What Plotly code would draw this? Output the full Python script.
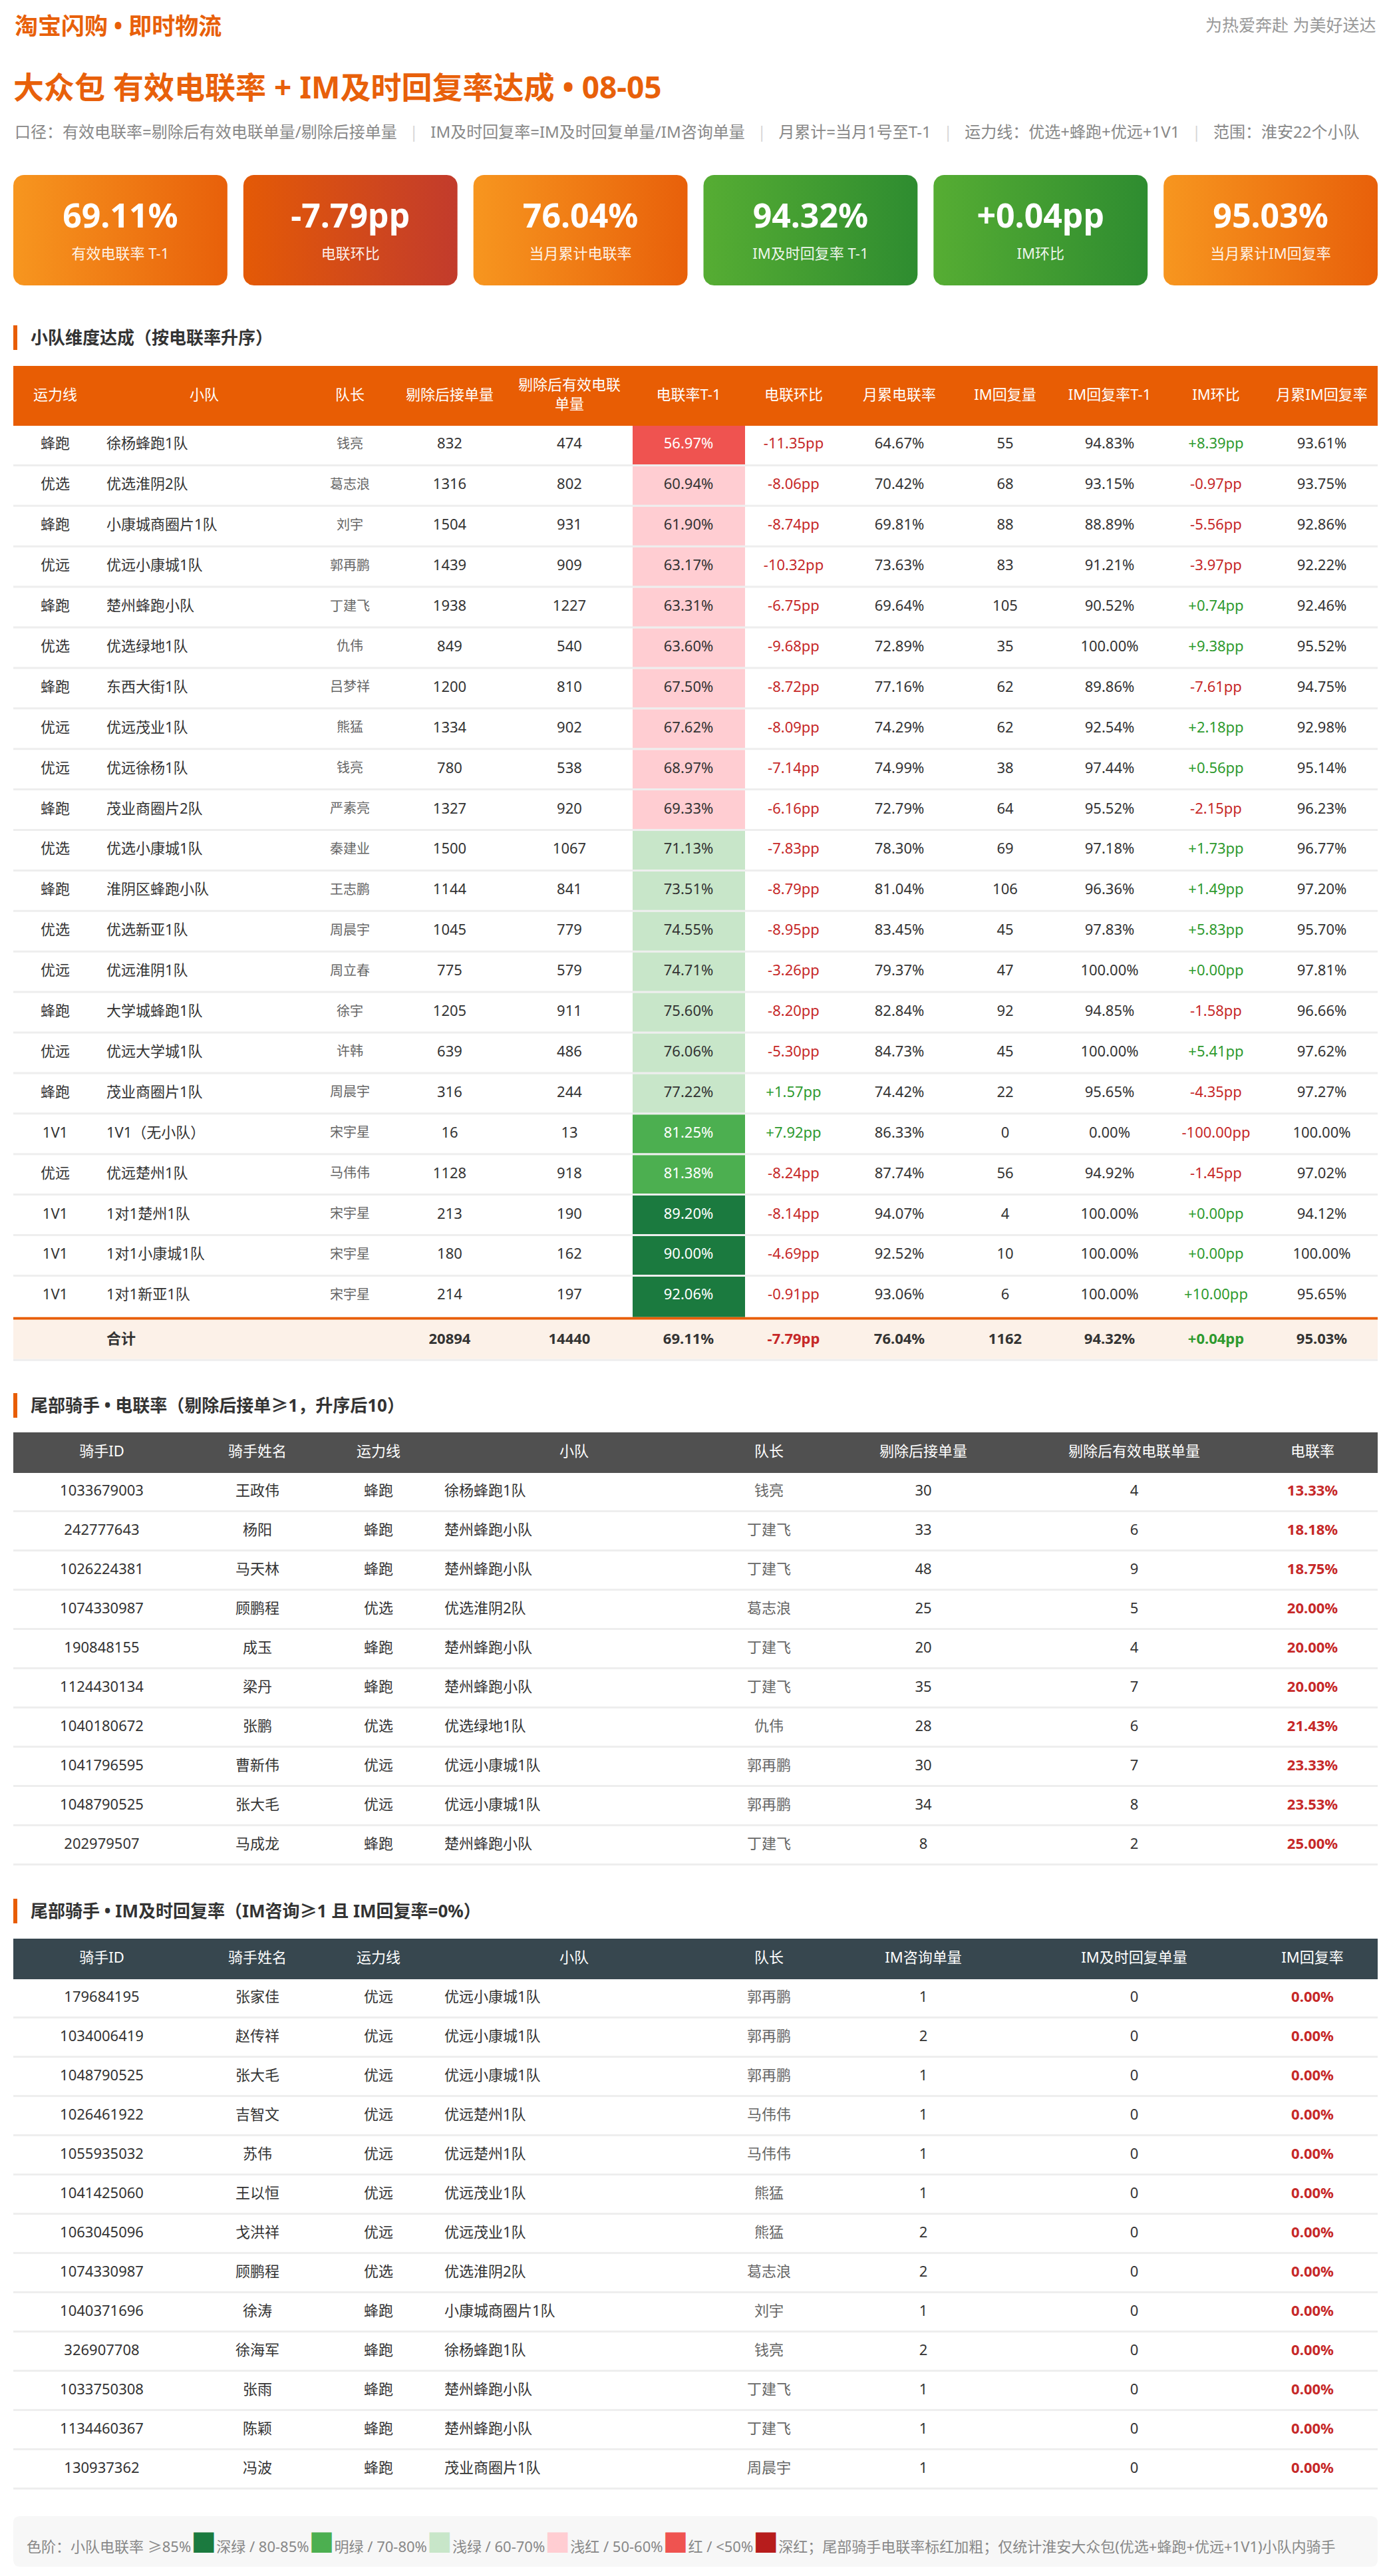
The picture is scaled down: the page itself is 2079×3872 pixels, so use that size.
import plotly.graph_objects as go

W, H = 2079, 3872
FONT = "Noto Sans, Noto Sans CJK SC, sans-serif"

# ---------------- data ----------------
kpi_values = ["69.11%", "-7.79pp", "76.04%", "94.32%", "+0.04pp", "95.03%"]
kpi_labels = ["有效电联率 T-1", "电联环比", "当月累计电联率", "IM及时回复率 T-1", "IM环比", "当月累计IM回复率"]
kpi_theme = ["orange", "red", "orange", "green", "green", "orange"]

lines = ["蜂跑", "优选", "蜂跑", "优远", "蜂跑", "优选", "蜂跑", "优远", "优远", "蜂跑", "优选",
         "蜂跑", "优选", "优远", "蜂跑", "优远", "蜂跑", "1V1", "优远", "1V1", "1V1", "1V1"]
teams = ["徐杨蜂跑1队", "优选淮阴2队", "小康城商圈片1队", "优远小康城1队", "楚州蜂跑小队", "优选绿地1队",
         "东西大街1队", "优远茂业1队", "优远徐杨1队", "茂业商圈片2队", "优选小康城1队", "淮阴区蜂跑小队",
         "优选新亚1队", "优远淮阴1队", "大学城蜂跑1队", "优远大学城1队", "茂业商圈片1队", "1V1（无小队）",
         "优远楚州1队", "1对1楚州1队", "1对1小康城1队", "1对1新亚1队"]
leaders = ["钱亮", "葛志浪", "刘宇", "郭再鹏", "丁建飞", "仇伟", "吕梦祥", "熊猛", "钱亮", "严素亮", "秦建业",
           "王志鹏", "周晨宇", "周立春", "徐宇", "许韩", "周晨宇", "宋宇星", "马伟伟", "宋宇星", "宋宇星", "宋宇星"]
orders = [832, 1316, 1504, 1439, 1938, 849, 1200, 1334, 780, 1327, 1500, 1144, 1045, 775, 1205, 639, 316, 16,
          1128, 213, 180, 214]
valid_orders = [474, 802, 931, 909, 1227, 540, 810, 902, 538, 920, 1067, 841, 779, 579, 911, 486, 244, 13, 918,
                190, 162, 197]
call_rate = [56.97, 60.94, 61.90, 63.17, 63.31, 63.60, 67.50, 67.62, 68.97, 69.33, 71.13, 73.51, 74.55, 74.71,
             75.60, 76.06, 77.22, 81.25, 81.38, 89.20, 90.00, 92.06]
call_chg = [-11.35, -8.06, -8.74, -10.32, -6.75, -9.68, -8.72, -8.09, -7.14, -6.16, -7.83, -8.79, -8.95, -3.26,
            -8.20, -5.30, 1.57, 7.92, -8.24, -8.14, -4.69, -0.91]
month_call = [64.67, 70.42, 69.81, 73.63, 69.64, 72.89, 77.16, 74.29, 74.99, 72.79, 78.30, 81.04, 83.45, 79.37,
              82.84, 84.73, 74.42, 86.33, 87.74, 94.07, 92.52, 93.06]
im_reply = [55, 68, 88, 83, 105, 35, 62, 62, 38, 64, 69, 106, 45, 47, 92, 45, 22, 0, 56, 4, 10, 6]
im_rate = [94.83, 93.15, 88.89, 91.21, 90.52, 100.00, 89.86, 92.54, 97.44, 95.52, 97.18, 96.36, 97.83, 100.00,
           94.85, 100.00, 95.65, 0.00, 94.92, 100.00, 100.00, 100.00]
im_chg = [8.39, -0.97, -5.56, -3.97, 0.74, 9.38, -7.61, 2.18, 0.56, -2.15, 1.73, 1.49, 5.83, 0.00, -1.58, 5.41,
          -4.35, -100.00, -1.45, 0.00, 0.00, 10.00]
month_im = [93.61, 93.75, 92.86, 92.22, 92.46, 95.52, 94.75, 92.98, 95.14, 96.23, 96.77, 97.20, 95.70, 97.81,
            96.66, 97.62, 97.27, 100.00, 97.02, 94.12, 100.00, 95.65]
total_label = "合计"
total_orders = 20894
total_valid = 14440
total_rate = 69.11
total_chg = -7.79
total_month = 76.04
total_im_reply = 1162
total_im_rate = 94.32
total_im_chg = 0.04
total_month_im = 95.03

main_headers = ["运力线", "小队", "队长", "剔除后接单量", "剔除后有效电联<br>单量", "电联率T-1", "电联环比",
                "月累电联率", "IM回复量", "IM回复率T-1", "IM环比", "月累IM回复率"]

t2_headers = ["骑手ID", "骑手姓名", "运力线", "小队", "队长", "剔除后接单量", "剔除后有效电联单量", "电联率"]
t2_id = ["1033679003", "242777643", "1026224381", "1074330987", "190848155", "1124430134", "1040180672",
         "1041796595", "1048790525", "202979507"]
t2_name = ["王政伟", "杨阳", "马天林", "顾鹏程", "成玉", "梁丹", "张鹏", "曹新伟", "张大毛", "马成龙"]
t2_line = ["蜂跑", "蜂跑", "蜂跑", "优选", "蜂跑", "蜂跑", "优选", "优远", "优远", "蜂跑"]
t2_team = ["徐杨蜂跑1队", "楚州蜂跑小队", "楚州蜂跑小队", "优选淮阴2队", "楚州蜂跑小队", "楚州蜂跑小队",
           "优选绿地1队", "优远小康城1队", "优远小康城1队", "楚州蜂跑小队"]
t2_leader = ["钱亮", "丁建飞", "丁建飞", "葛志浪", "丁建飞", "丁建飞", "仇伟", "郭再鹏", "郭再鹏", "丁建飞"]
t2_orders = [30, 33, 48, 25, 20, 35, 28, 30, 34, 8]
t2_valid = [4, 6, 9, 5, 4, 7, 6, 7, 8, 2]
t2_rate = [13.33, 18.18, 18.75, 20.00, 20.00, 20.00, 21.43, 23.33, 23.53, 25.00]

t3_headers = ["骑手ID", "骑手姓名", "运力线", "小队", "队长", "IM咨询单量", "IM及时回复单量", "IM回复率"]
t3_id = ["179684195", "1034006419", "1048790525", "1026461922", "1055935032", "1041425060", "1063045096",
         "1074330987", "1040371696", "326907708", "1033750308", "1134460367", "130937362"]
t3_name = ["张家佳", "赵传祥", "张大毛", "吉智文", "苏伟", "王以恒", "戈洪祥", "顾鹏程", "徐涛", "徐海军", "张雨",
           "陈颖", "冯波"]
t3_line = ["优远", "优远", "优远", "优远", "优远", "优远", "优远", "优选", "蜂跑", "蜂跑", "蜂跑", "蜂跑", "蜂跑"]
t3_team = ["优远小康城1队", "优远小康城1队", "优远小康城1队", "优远楚州1队", "优远楚州1队", "优远茂业1队",
           "优远茂业1队", "优选淮阴2队", "小康城商圈片1队", "徐杨蜂跑1队", "楚州蜂跑小队", "楚州蜂跑小队",
           "茂业商圈片1队"]
t3_leader = ["郭再鹏", "郭再鹏", "郭再鹏", "马伟伟", "马伟伟", "熊猛", "熊猛", "葛志浪", "刘宇", "钱亮", "丁建飞",
             "丁建飞", "周晨宇"]
t3_consult = [1, 2, 1, 1, 1, 1, 2, 2, 1, 2, 1, 1, 1]
t3_replied = [0, 0, 0, 0, 0, 0, 0, 0, 0, 0, 0, 0, 0]
t3_rate = [0.00] * 13

legend_bins = ["≥85%", "80-85%", "70-80%", "60-70%", "50-60%", "&lt;50%"]
legend_names = ["深绿", "明绿", "浅绿", "浅红", "红", "深红"]

# ---------------- styles ----------------
ORANGE = "#E85D04"
TXT = "#333333"
GRAY = "#666666"
RED = "#C62828"
GREEN = "#2E9A2E"
SEP = "#EEEEEE"
BIN_COLORS = ["#1B7A3F", "#4CAF50", "#C8E6C9", "#FFCDD2", "#EF5350", "#B71C1C"]
GRAD = {"orange": ["#F7961F", "#E8600A"], "red": ["#E45A06", "#C23B2C"], "green": ["#56AD33", "#2E8C30"]}


def bin_index(v):
    if v >= 85:
        return 0
    if v >= 80:
        return 1
    if v >= 70:
        return 2
    if v >= 60:
        return 3
    if v >= 50:
        return 4
    return 5


def pct(v):
    return f"{v:.2f}%"


def pp(v):
    return f"{v:+.2f}pp"


def pp_color(v):
    return RED if v < 0 else GREEN


fig = go.Figure()
shapes = []
annotations = []


def rect(x0, y0, x1, y1, color):
    shapes.append(dict(type="rect", xref="x", yref="y", x0=x0, y0=y0, x1=x1, y1=y1,
                       fillcolor=color, line=dict(width=0), layer="below"))


def text_trace(xs, ys, texts, size, color, bold=False, pos="middle center"):
    fig.add_trace(go.Scatter(
        x=xs, y=ys, text=[f"<b>{t}</b>" if bold else t for t in texts], mode="text",
        textposition=pos, cliponaxis=False, hoverinfo="skip", showlegend=False,
        textfont=dict(family=FONT, size=size, color=color)))


def label(x, y, text, size, color, anchor="left"):
    annotations.append(dict(x=x, y=y, xref="x", yref="y", text=text, showarrow=False,
                            xanchor=anchor, yanchor="middle", font=dict(family=FONT, size=size, color=color)))


def round_rect_pts(x0, y0, x1, y1, r, n=10):
    import math
    xs, ys = [], []
    corners = [(x1 - r, y0 + r, -90, 0), (x1 - r, y1 - r, 0, 90), (x0 + r, y1 - r, 90, 180),
               (x0 + r, y0 + r, 180, 270)]
    for cx, cy, a0, a1 in corners:
        for k in range(n + 1):
            a = math.radians(a0 + (a1 - a0) * k / n)
            xs.append(cx + r * math.cos(a))
            ys.append(cy + r * math.sin(a))
    xs.append(xs[0])
    ys.append(ys[0])
    return xs, ys


# ---------------- header ----------------
label(20, 38, "<b>淘宝闪购 • 即时物流</b>", 35, "#E8600A")
label(2071, 37, "为热爱奔赴 为美好送达", 25, "#999999", anchor="right")
label(18, 130, "<b>大众包 有效电联率 + IM及时回复率达成 • 08-05</b>", 46, "#E8600A")
sep = '<span style="color:#d6d6d6">\u00a0\u00a0\u00a0|\u00a0\u00a0\u00a0</span>'
subtitle_parts = ["口径：有效电联率=剔除后有效电联单量/剔除后接单量", "IM及时回复率=IM及时回复单量/IM咨询单量",
                  "月累计=当月1号至T-1", "运力线：优选+蜂跑+优远+1V1", "范围：淮安22个小队"]
label(20, 197, sep.join(subtitle_parts), 24, "#888888")

# ---------------- KPI cards ----------------
CARD_X0, CARD_X1, CARD_GAP = 20, 2071, 24
CARD_Y0, CARD_Y1 = 263, 429
cw = (CARD_X1 - CARD_X0 - CARD_GAP * (len(kpi_values) - 1)) / len(kpi_values)
for i, (v, lab, th) in enumerate(zip(kpi_values, kpi_labels, kpi_theme)):
    x0 = CARD_X0 + i * (cw + CARD_GAP)
    xs, ys = round_rect_pts(x0, CARD_Y0, x0 + cw, CARD_Y1, 16)
    c0, c1 = GRAD[th]
    fig.add_trace(go.Scatter(x=xs, y=ys, mode="lines", line=dict(width=0), fill="toself",
                             fillgradient=dict(type="horizontal", colorscale=[[0, c0], [1, c1]]),
                             hoverinfo="skip", showlegend=False))
kx = [CARD_X0 + i * (cw + CARD_GAP) + cw / 2 for i in range(len(kpi_values))]
text_trace(kx, [329] * len(kx), kpi_values, 50, "#FFFFFF", bold=True)
text_trace(kx, [383] * len(kx), kpi_labels, 22, "rgba(255,255,255,0.93)")


# ---------------- section titles ----------------
def section(y, text):
    rect(20, y - 18, 26, y + 19, ORANGE)
    label(44, y, f"<b>{text}</b>", 26, TXT)


section(507, "小队维度达成（按电联率升序）")
section(2112, "尾部骑手 • 电联率（剔除后接单≥1，升序后10）")
section(2872, "尾部骑手 • IM及时回复率（IM咨询≥1 且 IM回复率=0%）")

# ---------------- main table ----------------
TX0, TX1 = 20, 2071
M_TOP, M_HDR, M_ROW = 550, 90, 60.9
hdr_x = [83, 307, 526, 676, 856, 1035, 1193, 1352, 1511, 1668, 1828, 1987]
RATE_X0, RATE_X1 = 951, 1120
TEAM_X = 160
n = len(teams)
rect(TX0, M_TOP, TX1, M_TOP + M_HDR, ORANGE)
text_trace(hdr_x, [M_TOP + M_HDR / 2] * len(hdr_x), main_headers, 22, "#FFFFFF")

row_top = [M_TOP + M_HDR + i * M_ROW for i in range(n)]
row_c = [t + (M_ROW - 3) / 2 for t in row_top]
for i in range(n):
    rect(RATE_X0, row_top[i], RATE_X1, row_top[i] + M_ROW, BIN_COLORS[bin_index(call_rate[i])])
for i in range(n - 1):
    rect(TX0, row_top[i] + M_ROW - 3, TX1, row_top[i] + M_ROW, SEP)

text_trace([hdr_x[0]] * n, row_c, lines, 22, TXT)
text_trace([TEAM_X] * n, row_c, teams, 22, TXT, pos="middle right")
text_trace([hdr_x[2]] * n, row_c, leaders, 20, GRAY)
text_trace([hdr_x[3]] * n, row_c, [str(v) for v in orders], 22, TXT)
text_trace([hdr_x[4]] * n, row_c, [str(v) for v in valid_orders], 22, TXT)
text_trace([hdr_x[5]] * n, row_c, [pct(v) for v in call_rate], 22,
           ["#FFFFFF" if bin_index(v) in (0, 1, 4, 5) else TXT for v in call_rate])
text_trace([hdr_x[6]] * n, row_c, [pp(v) for v in call_chg], 22, [pp_color(v) for v in call_chg])
text_trace([hdr_x[7]] * n, row_c, [pct(v) for v in month_call], 22, TXT)
text_trace([hdr_x[8]] * n, row_c, [str(v) for v in im_reply], 22, TXT)
text_trace([hdr_x[9]] * n, row_c, [pct(v) for v in im_rate], 22, TXT)
text_trace([hdr_x[10]] * n, row_c, [pp(v) for v in im_chg], 22, [pp_color(v) for v in im_chg])
text_trace([hdr_x[11]] * n, row_c, [pct(v) for v in month_im], 22, TXT)

# total row
tot_top = M_TOP + M_HDR + n * M_ROW
rect(TX0, tot_top, TX1, tot_top + 4, ORANGE)
rect(TX0, tot_top + 4, TX1, tot_top + 63, "#FCF1E8")
rect(TX0, tot_top + 63, TX1, tot_top + 66, SEP)
tc = tot_top + 4 + 59 / 2 + 1
text_trace([TEAM_X], [tc], [total_label], 22, TXT, bold=True, pos="middle right")
tot_vals = [str(total_orders), str(total_valid), pct(total_rate), pp(total_chg), pct(total_month),
            str(total_im_reply), pct(total_im_rate), pp(total_im_chg), pct(total_month_im)]
tot_cols = [TXT, TXT, TXT, pp_color(total_chg), TXT, TXT, TXT, pp_color(total_im_chg), TXT]
text_trace(hdr_x[3:], [tc] * len(tot_vals), tot_vals, 22, tot_cols, bold=True)

# ---------------- rider tables ----------------
rider_hdr_x = [153, 387, 569, 863, 1156, 1388, 1705, 1973]
RIDER_TEAM_X = 668


def rider_table(top, hdr_h, row_h, hdr_color, headers, cols, rates):
    m = len(cols[0])
    rect(TX0, top, TX1, top + hdr_h, hdr_color)
    text_trace(rider_hdr_x, [top + hdr_h / 2] * len(headers), headers, 22, "#FFFFFF")
    tops = [top + hdr_h + i * row_h for i in range(m)]
    cs = [t + (row_h - 3) / 2 for t in tops]
    for t in tops:
        rect(TX0, t + row_h - 3, TX1, t + row_h, SEP)
    text_trace([rider_hdr_x[0]] * m, cs, cols[0], 22, TXT)
    text_trace([rider_hdr_x[1]] * m, cs, cols[1], 22, TXT)
    text_trace([rider_hdr_x[2]] * m, cs, cols[2], 22, TXT)
    text_trace([RIDER_TEAM_X] * m, cs, cols[3], 22, TXT, pos="middle right")
    text_trace([rider_hdr_x[4]] * m, cs, cols[4], 22, GRAY)
    text_trace([rider_hdr_x[5]] * m, cs, [str(v) for v in cols[5]], 22, TXT)
    text_trace([rider_hdr_x[6]] * m, cs, [str(v) for v in cols[6]], 22, TXT)
    text_trace([rider_hdr_x[7]] * m, cs, [pct(v) for v in rates], 22, RED, bold=True)


rider_table(2153, 61, 59, "#505050", t2_headers,
            [t2_id, t2_name, t2_line, t2_team, t2_leader, t2_orders, t2_valid], t2_rate)
rider_table(2914, 61, 59, "#37474F", t3_headers,
            [t3_id, t3_name, t3_line, t3_team, t3_leader, t3_consult, t3_replied], t3_rate)

# ---------------- footer legend ----------------
FY0, FY1, R = 3782, 3858, 10
shapes.append(dict(type="path", xref="x", yref="y", layer="below", fillcolor="#F7F7F7", line=dict(width=0),
                   path=(f"M {TX0 + R},{FY0} L {TX1 - R},{FY0} Q {TX1},{FY0} {TX1},{FY0 + R} "
                         f"L {TX1},{FY1 - R} Q {TX1},{FY1} {TX1 - R},{FY1} L {TX0 + R},{FY1} "
                         f"Q {TX0},{FY1} {TX0},{FY1 - R} L {TX0},{FY0 + R} Q {TX0},{FY0} {TX0 + R},{FY0} Z")))
parts = []
for i, (b, nm, c) in enumerate(zip(legend_bins, legend_names, BIN_COLORS)):
    sw = f'<span style="color:{c};font-size:38px">■</span>'
    prefix = "色阶：小队电联率 " if i == 0 else " / "
    parts.append(f"{prefix}{b}{sw}{nm}")
legend_text = "".join(parts) + "；尾部骑手电联率标红加粗；仅统计淮安大众包(优选+蜂跑+优远+1V1)小队内骑手"
label(38, 3821, legend_text, 22, "#888888")

fig.update_layout(
    width=W, height=H, margin=dict(l=0, r=0, t=0, b=0, pad=0),
    paper_bgcolor="#FFFFFF", plot_bgcolor="#FFFFFF",
    xaxis=dict(range=[0, W], visible=False, fixedrange=True),
    yaxis=dict(range=[H, 0], visible=False, fixedrange=True),
    shapes=shapes, annotations=annotations, showlegend=False,
    font=dict(family=FONT),
)

fig.write_html("out.html", config={"displayModeBar": False, "staticPlot": True},
               post_script="document.body.style.margin='0';document.body.style.overflow='hidden';")
